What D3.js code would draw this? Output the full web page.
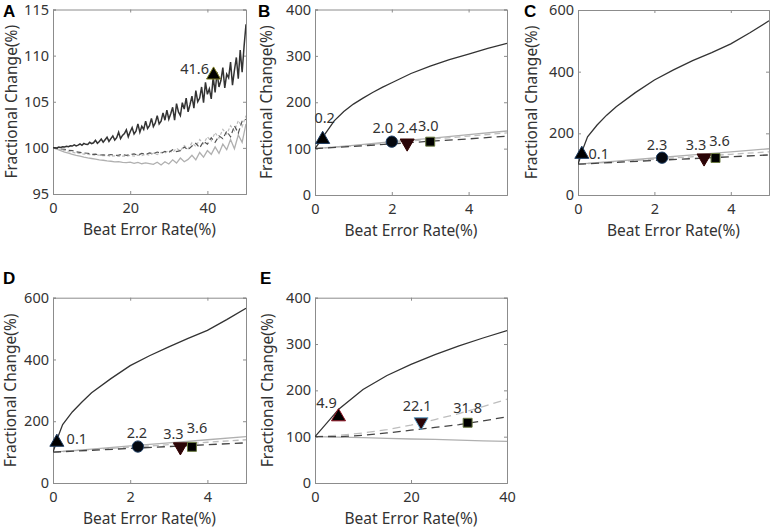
<!DOCTYPE html>
<html><head><meta charset="utf-8">
<script src="https://cdn.jsdelivr.net/npm/d3@7"></script>
<style>
body{margin:0;background:#fff;}
svg text{font-family:"Noto Sans",sans-serif;fill:#333;}
</style></head>
<body><svg id="c" width="771" height="531"></svg>
<script>
// ---------------- DATA ----------------
// Panel A (x step 0.5 for dark line, step 1 for others)
const darkA = [100.0,100.02,100.0,100.08,100.05,100.12,100.1,100.18,100.12,100.22,100.2,
 100.32,100.22,100.3,100.42,100.28,100.48,100.38,100.36,100.6,100.45,
 100.55,100.82,100.5,100.7,100.95,100.62,100.88,101.15,100.7,101.0,
 101.3,100.85,101.1,101.7,101.0,101.35,101.55,101.95,101.2,101.75,
 102.2,101.5,101.8,102.6,101.7,102.35,102.0,102.9,102.1,102.4,
 103.2,102.3,102.7,103.5,102.6,102.9,103.8,103.0,104.1,103.1,
 103.7,104.4,103.0,104.8,103.9,103.5,104.9,104.2,105.4,103.9,
 104.7,105.6,104.3,106.2,105.0,105.4,106.6,104.9,107.1,105.8,
 106.4,105.3,107.7,106.0,108.2,106.6,107.3,108.7,106.5,108.0,
 107.6,109.3,106.8,108.4,109.8,107.5,110.6,108.2,111.0,113.4];
const dashA = [100.0,99.95,99.88,99.85,99.72,99.7,99.58,99.52,99.45,99.42,
 99.3,99.33,99.22,99.25,99.2,99.28,99.18,99.22,99.3,99.18,
 99.28,99.35,99.2,99.4,99.3,99.45,99.35,99.55,99.4,99.62,
 99.5,99.8,99.6,99.7,100.1,99.8,100.2,100.5,100.0,100.7,
 100.4,101.1,100.6,101.3,101.0,101.8,101.2,102.4,101.6,102.9,103.1];
const grayA = [100.0,99.85,99.7,99.55,99.42,99.3,99.18,99.1,99.0,98.92,
 98.85,98.78,98.7,98.66,98.58,98.55,98.48,98.5,98.42,98.4,
 98.45,98.32,98.42,98.28,98.38,98.3,98.22,98.45,98.15,98.5,
 98.25,98.7,98.35,98.9,98.5,98.75,99.2,98.7,99.5,99.0,
 99.7,99.3,100.1,99.4,100.4,99.8,100.9,99.9,101.4,100.6,102.6];
const lightDashA = [100.0,99.9,99.8,99.72,99.6,99.52,99.45,99.4,99.33,99.3,
 99.25,99.2,99.22,99.15,99.18,99.1,99.14,99.08,99.12,99.1,
 99.18,99.1,99.22,99.15,99.32,99.2,99.42,99.28,99.5,99.45,
 99.72,99.5,99.95,99.68,100.25,99.9,100.55,100.15,100.9,100.45,
 101.2,100.75,101.65,101.05,102.0,101.5,102.4,101.85,102.95,102.3,103.5];
const markerXA = [41.6], markerYA = [107.9], markerLabelA = ["41.6"];

// Panel B
const curveXB = [0,0.1,0.25,0.5,0.75,1,1.25,1.5,1.75,2,2.5,3,3.5,4,4.5,5];
const darkB   = [100,112,130,160,180,196,209,221,232,242,262,278,292,304,316,327];
const lineXB  = [0,1,2,3,4,5];
const grayB   = [100,107,115,122,130,138];
const dashB   = [100,105,110,116,121,127];
const lightDashB = [100,106,113,120,127,134];
const markerXB = [0.2,2.0,2.4,3.0], markerYB = [120,115,112,115];
const markerLabelB = ["0.2","2.0","2.4","3.0"];

// Panel C
const curveXC = [0,0.05,0.1,0.25,0.5,0.75,1,1.5,2,2.5,3,3.5,4,4.5,5];
const darkC   = [100,118,140,189,227,259,286,332,373,406,436,462,490,526,565];
const lineXC  = [0,1,2,3,4,5];
const grayC   = [100,110,120,130,140,150];
const dashC   = [100,106,112,118,124,130];
const lightDashC = [100,108,116,124,132,140];
const markerXC = [0.1,2.2,3.3,3.6], markerYC = [132,121,120,120];
const markerLabelC = ["0.1","2.3","3.3","3.6"];

// Panel D
const curveXD = [0,0.05,0.1,0.25,0.5,0.75,1,1.5,2,2.5,3,3.5,4,4.5,5];
const darkD   = [100,118,140,189,230,262,292,338,380,412,441,468,494,529,566];
const lineXD  = [0,1,2,3,4,5];
const grayD   = [100,110,120,130,140,150];
const dashD   = [100,106,112,118,124,130];
const lightDashD = [100,108,116,124,132,140];
const markerXD = [0.1,2.2,3.3,3.6], markerYD = [132,118,117,117];
const markerLabelD = ["0.1","2.2","3.3","3.6"];

// Panel E
const lineXE  = [0,5,10,15,20,25,30,35,40];
const darkE   = [100,160,202,232,256,277,296,313,329];
const lightDashE = [100,103,108,115,125,137,150,165,181];
const dashE   = [100,100,103,108,114,120,126,134,143];
const grayE   = [100,99,98,96.5,95,94,92.5,91,90];
const markerXE = [4.9,22.1,31.8], markerYE = [143,132,130];
const markerLabelE = ["4.9","22.1","31.8"];

// Axis ticks
const xTicksA = [0,20,40], yTicksA = [95,100,105,110,115];
const xTicksB = [0,2,4],   yTicksB = [0,100,200,300,400];
const xTicksC = [0,2,4],   yTicksC = [0,200,400,600];
const xTicksD = [0,2,4],   yTicksD = [0,200,400,600];
const xTicksE = [0,20,40], yTicksE = [0,100,200,300,400];

const xTitle = "Beat Error Rate(%)";
const yTitle = "Fractional Change(%)";

// ---------------- LAYOUT ----------------
const svg = d3.select("#c");
const C_DARK = "#333", C_GRAY = "#b0b0b0", C_DASH = "#444", C_LDASH = "#bdbdbd";

const stepX = (arr, step) => arr.map((v,i)=>[i*step, v]);
const zipXY = (xs, ys) => xs.map((x,i)=>[x, ys[i]]);

const panels = [
 {letter:"A", box:[53,246,9.5,194], xd:[0,50], yd:[95,115], xt:xTicksA, yt:yTicksA, ytx:11, lx:3, ly:17,
  series:[
   {pts:stepX(grayA,1), color:C_GRAY, dash:null, w:1.3},
   {pts:stepX(lightDashA,1), color:C_LDASH, dash:"3,2", w:1.2},
   {pts:stepX(dashA,1), color:"#555", dash:"5,3", w:1.2},
   {pts:stepX(darkA,0.5), color:C_DARK, dash:null, w:1.5}],
  mx:markerXA, my:markerYA, ml:markerLabelA, shapes:["up"], strokes:["#7a7a20"],
  off:[[-19,-7]]},
 {letter:"B", box:[315,507,9.5,195], xd:[0,5], yd:[0,400], xt:xTicksB, yt:yTicksB, ytx:266, lx:258, ly:17,
  series:[
   {pts:zipXY(lineXB,lightDashB), color:C_LDASH, dash:"6,4", w:1.3},
   {pts:zipXY(lineXB,grayB), color:C_GRAY, dash:null, w:1.3},
   {pts:zipXY(lineXB,dashB), color:C_DASH, dash:"8,5", w:1.3},
   {pts:zipXY(curveXB,darkB), color:C_DARK, dash:null, w:1.3}],
  mx:markerXB, my:markerYB, ml:markerLabelB, shapes:["up","circle","down","square"],
  strokes:["#1a3a60","#1a3a60","#300","#6a7a40"], off:[[2,-22],[-9,-15],[0,-16],[-2,-17]]},
 {letter:"C", box:[578,769,10,195], xd:[0,5], yd:[0,600], xt:xTicksC, yt:yTicksC, ytx:531, lx:524, ly:17,
  series:[
   {pts:zipXY(lineXC,lightDashC), color:C_LDASH, dash:"6,4", w:1.3},
   {pts:zipXY(lineXC,grayC), color:C_GRAY, dash:null, w:1.3},
   {pts:zipXY(lineXC,dashC), color:C_DASH, dash:"8,5", w:1.3},
   {pts:zipXY(curveXC,darkC), color:C_DARK, dash:null, w:1.3}],
  mx:markerXC, my:markerYC, ml:markerLabelC, shapes:["up","circle","down","square"],
  strokes:["#1a3a60","#1a3a60","#300","#6a7a40"], off:[[17,-1],[-5,-14],[-8,-14],[4,-18]]},
 {letter:"D", box:[53,246,297.7,483], xd:[0,5], yd:[0,600], xt:xTicksD, yt:yTicksD, ytx:10, lx:3, ly:284,
  series:[
   {pts:zipXY(lineXD,lightDashD), color:C_LDASH, dash:"6,4", w:1.3},
   {pts:zipXY(lineXD,grayD), color:C_GRAY, dash:null, w:1.3},
   {pts:zipXY(lineXD,dashD), color:C_DASH, dash:"8,5", w:1.3},
   {pts:zipXY(curveXD,darkD), color:C_DARK, dash:null, w:1.3}],
  mx:markerXD, my:markerYD, ml:markerLabelD, shapes:["up","circle","down","square"],
  strokes:["#1a3a60","#1a3a60","#300","#6a7a40"], off:[[20,-4],[-1,-15],[-7,-14],[5,-20]]},
 {letter:"E", box:[315,507,297.7,483], xd:[0,40], yd:[0,400], xt:xTicksE, yt:yTicksE, ytx:267, lx:260, ly:284,
  series:[
   {pts:zipXY(lineXE,grayE), color:C_GRAY, dash:null, w:1.3},
   {pts:zipXY(lineXE,lightDashE), color:C_LDASH, dash:"8,5", w:1.3},
   {pts:zipXY(lineXE,dashE), color:C_DASH, dash:"8,5", w:1.3},
   {pts:zipXY(lineXE,darkE), color:C_DARK, dash:null, w:1.3}],
  mx:markerXE, my:markerYE, ml:markerLabelE, shapes:["up","down","square"],
  strokes:["#8a1020","#5aa0c8","#6a7a40"], off:[[-12,-15],[-4,-17],[0,-16]]}
];

const fills = {up:"#000", circle:"#05080f", down:"#2a0508", square:"#000"};
const sym = {
  up: d3.symbol().type(d3.symbolTriangle).size(85)(),
  down: d3.symbol().type(d3.symbolTriangle).size(85)(),
  circle: d3.symbol().type(d3.symbolCircle).size(100)(),
  square: d3.symbol().type(d3.symbolSquare).size(80)()
};

panels.forEach(p => {
  const [x0,x1,y0,y1] = p.box;
  const x = d3.scaleLinear().domain(p.xd).range([x0,x1]);
  const y = d3.scaleLinear().domain(p.yd).range([y1,y0]);
  const g = svg.append("g");

  const clipId = "clip"+p.letter;
  svg.append("clipPath").attr("id",clipId).append("rect")
    .attr("x",x0).attr("y",y0-1).attr("width",x1-x0).attr("height",y1-y0+1);

  const tl = 3;
  const ax = g.append("g").attr("transform",`translate(0,${y1})`)
    .call(d3.axisBottom(x).tickValues(p.xt).tickSize(-tl).tickPadding(9).tickFormat(d3.format("d")));
  const ay = g.append("g").attr("transform",`translate(${x0},0)`)
    .call(d3.axisLeft(y).tickValues(p.yt).tickSize(-tl).tickPadding(4).tickFormat(d3.format("d")));
  const axT = g.append("g").attr("transform",`translate(0,${y0})`)
    .call(d3.axisTop(x).tickValues(p.xt).tickSize(-tl).tickFormat(""));
  const ayR = g.append("g").attr("transform",`translate(${x1},0)`)
    .call(d3.axisRight(y).tickValues(p.yt).tickSize(-tl).tickFormat(""));
  [ax,ay,axT,ayR].forEach(a=>{
    a.select(".domain").attr("stroke","#8c8c8c").attr("stroke-width",1);
    a.selectAll(".tick line").attr("stroke","#8c8c8c");
    a.selectAll(".tick text").attr("fill","#333").style("font-size","14.5px")
      .style("font-family","'Noto Sans',sans-serif");
  });

  const line = d3.line().x(d=>x(d[0])).y(d=>y(d[1]));
  const lg = g.append("g").attr("clip-path",`url(#${clipId})`);
  p.series.forEach(s=>{
    lg.append("path").attr("d",line(s.pts)).attr("fill","none")
      .attr("stroke",s.color).attr("stroke-width",s.w)
      .attr("stroke-dasharray",s.dash);
  });

  p.mx.forEach((mx,i)=>{
    const sh = p.shapes[i];
    const cx = x(mx), cy = y(p.my[i]);
    g.append("path").attr("d",sym[sh])
      .attr("transform",`translate(${cx},${cy})${sh==="down"?" rotate(180)":""}`)
      .attr("fill",fills[sh]).attr("stroke",p.strokes[i]).attr("stroke-width",1);
    g.append("text").attr("x",cx+p.off[i][0]).attr("y",cy+p.off[i][1])
      .attr("text-anchor","middle").attr("dominant-baseline","central")
      .style("font-size","14.5px").text(p.ml[i]);
  });

  g.append("text").attr("x",(x0+x1)/2).attr("y",y1+35).attr("text-anchor","middle")
    .attr("dominant-baseline","central").style("font-size","15.5px").text(xTitle);
  g.append("text").attr("transform",`translate(${p.ytx},${(y0+y1)/2}) rotate(-90)`)
    .attr("text-anchor","middle").attr("dominant-baseline","central")
    .style("font-size","15.5px").text(yTitle);
  g.append("text").attr("x",p.lx).attr("y",p.ly)
    .style("font-family","'Liberation Sans',Arial,sans-serif").style("font-weight","bold")
    .style("font-size","17px").style("fill","#000").text(p.letter);
});
</script></body></html>
